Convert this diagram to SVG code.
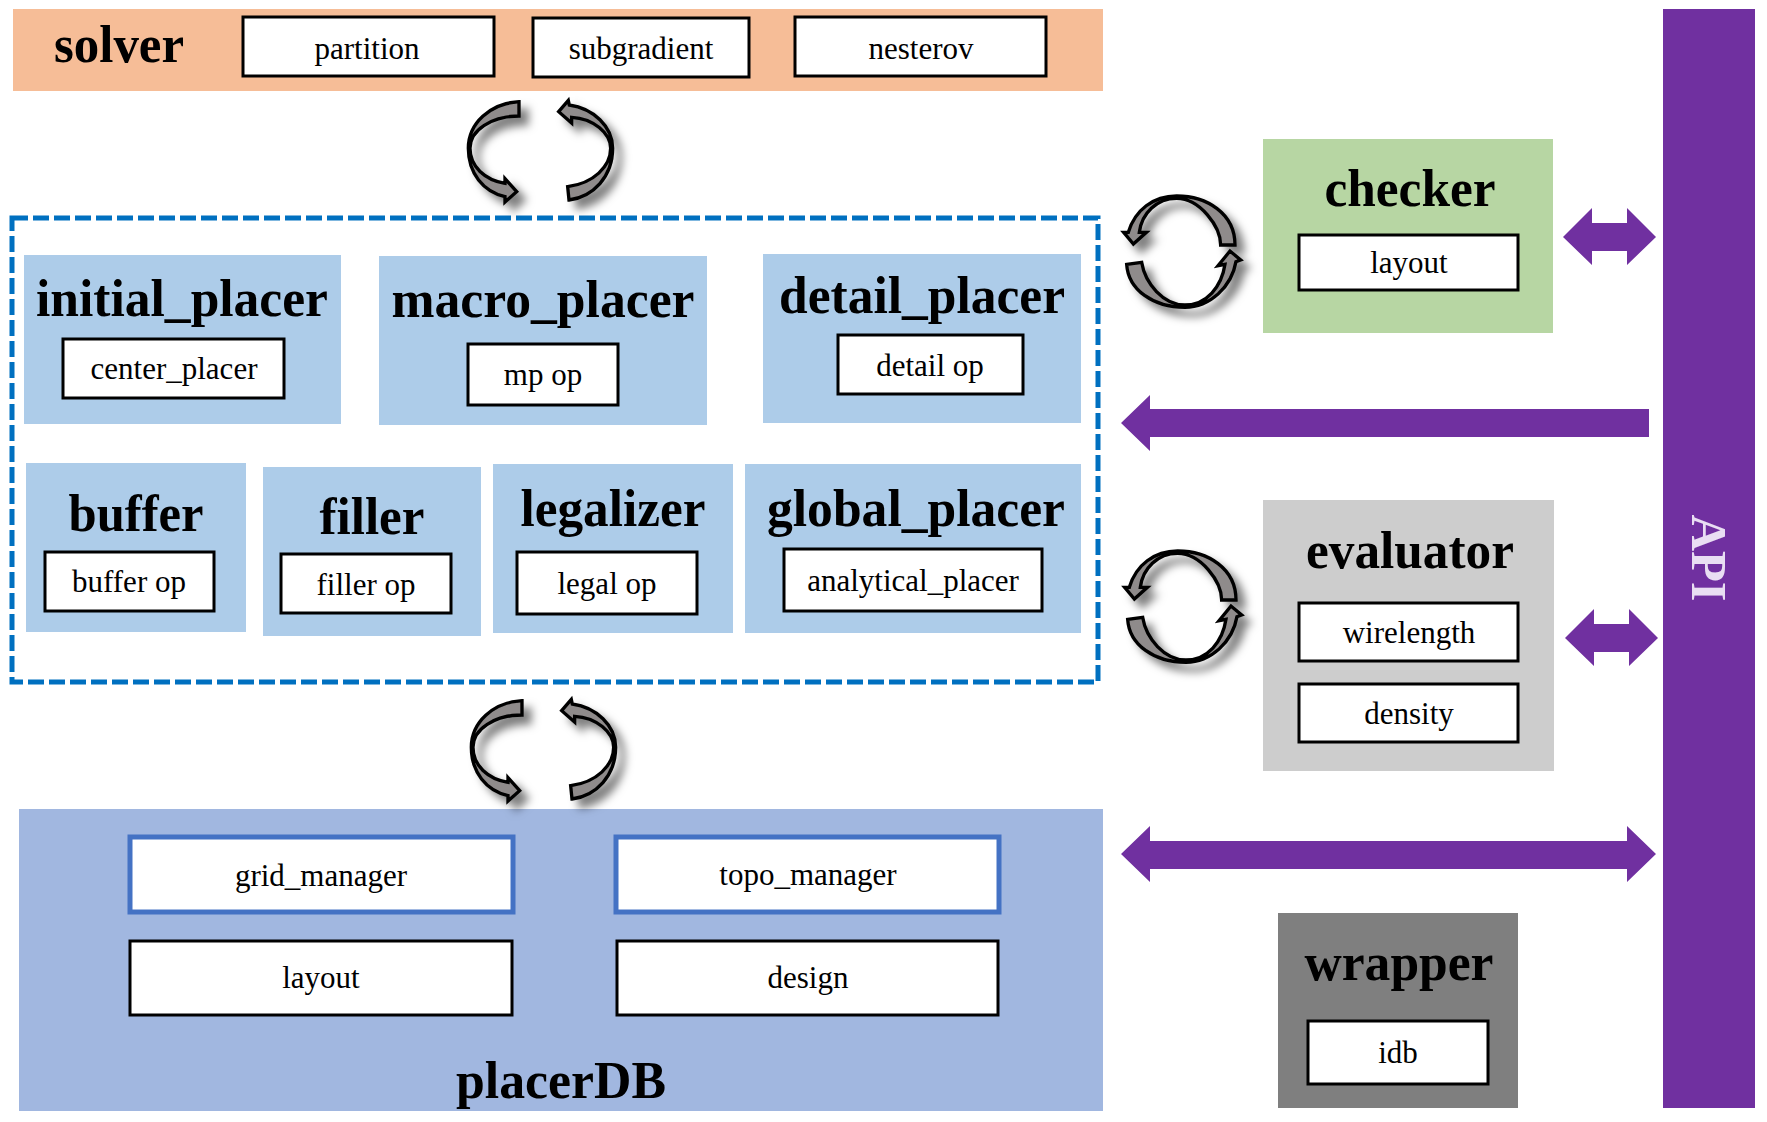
<svg xmlns="http://www.w3.org/2000/svg" xmlns:xlink="http://www.w3.org/1999/xlink" width="1767" height="1122" viewBox="0 0 1767 1122">
<style>
text{font-family:"Liberation Serif","Times New Roman",serif;text-anchor:middle;fill:#000}
.t{font-size:52px;font-weight:bold}
.s{font-size:31px}
.b{fill:#fff;stroke:#000;stroke-width:3}
.bb{fill:#fff;stroke:#4472c4;stroke-width:5}
.p{fill:#adcce9}
.pu{fill:#7030a0}
.loop{fill:#8f8b8b;stroke:#000;stroke-width:10;stroke-linejoin:miter}
</style>
<defs>
<filter id="sh" x="-30%" y="-30%" width="170%" height="170%"><feDropShadow dx="24" dy="24" stdDeviation="12" flood-color="#000" flood-opacity="0.5"/></filter>
<g id="pair" filter="url(#sh)">
<path class="loop" d="M297,65 C210,70 145,130 145,205 C145,280 190,335 255,350 L255,366 L290,335 L255,296 L255,310 C195,300 150,260 150,205 C150,150 215,108 297,108 Z"/>
<path class="loop" d="M416,95 L445,61 L448,75 C520,85 578,140 578,205 C578,290 520,350 447,360 L443,320 C520,310 572,260 572,205 C572,160 520,115 455,112 L455,129 Z"/>
</g>
<g id="ring" filter="url(#sh)">
<path class="loop" d="M100,222 L71,187 L85,187 C105,120 160,78 230,78 C320,78 405,130 405,225 L362,225 C362,170 300,85 230,85 C170,85 125,130 118,187 L139,187 Z"/>
<path class="loop" d="M80,283 L125,277 C135,340 190,405 255,405 C320,405 365,350 375,283 L354,287 L390,243 L422,270 L408,275 C395,350 330,412 255,412 C160,412 85,360 80,283 Z"/>
</g>
</defs>
<rect width="1767" height="1122" fill="#fff"/>
<g id="solver">
<rect x="13" y="9" width="1090" height="82" fill="#f6bd97"/>
<text class="t" x="119" y="62" textLength="130" lengthAdjust="spacingAndGlyphs">solver</text>
</g>
<g id="partition"><rect class="b" x="243" y="17" width="251" height="59"/><text class="s" x="367" y="59">partition</text></g>
<g id="subgradient"><rect class="b" x="533" y="18" width="216" height="59"/><text class="s" x="641" y="59">subgradient</text></g>
<g id="nesterov"><rect class="b" x="795" y="17" width="251" height="59"/><text class="s" x="921" y="59">nesterov</text></g>
<g id="placer_group"><rect x="12" y="218" width="1086" height="464" fill="none" stroke="#0070c0" stroke-width="5" stroke-dasharray="16 5"/></g>
<g id="initial_placer"><rect class="p" x="24" y="255" width="317" height="169"/><text class="t" x="182" y="316" textLength="292" lengthAdjust="spacingAndGlyphs">initial_placer</text><rect class="b" x="63" y="339" width="221" height="59"/><text class="s" x="174" y="379">center_placer</text></g>
<g id="macro_placer"><rect class="p" x="379" y="256" width="328" height="169"/><text class="t" x="543" y="317" textLength="303" lengthAdjust="spacingAndGlyphs">macro_placer</text><rect class="b" x="468" y="344" width="150" height="61"/><text class="s" x="543" y="385">mp op</text></g>
<g id="detail_placer"><rect class="p" x="763" y="254" width="318" height="169"/><text class="t" x="922" y="313" textLength="286" lengthAdjust="spacingAndGlyphs">detail_placer</text><rect class="b" x="838" y="335" width="185" height="59"/><text class="s" x="930" y="376">detail op</text></g>
<g id="buffer"><rect class="p" x="26" y="463" width="220" height="169"/><text class="t" x="136" y="531" textLength="135" lengthAdjust="spacingAndGlyphs">buffer</text><rect class="b" x="45" y="552" width="169" height="59"/><text class="s" x="129" y="592">buffer op</text></g>
<g id="filler"><rect class="p" x="263" y="467" width="218" height="169"/><text class="t" x="372" y="534" textLength="105" lengthAdjust="spacingAndGlyphs">filler</text><rect class="b" x="281" y="554" width="170" height="59"/><text class="s" x="366" y="595">filler op</text></g>
<g id="legalizer"><rect class="p" x="493" y="464" width="240" height="169"/><text class="t" x="613" y="526" textLength="185" lengthAdjust="spacingAndGlyphs">legalizer</text><rect class="b" x="517" y="552" width="180" height="62"/><text class="s" x="607" y="594">legal op</text></g>
<g id="global_placer"><rect class="p" x="745" y="464" width="336" height="169"/><text class="t" x="916" y="526" textLength="298" lengthAdjust="spacingAndGlyphs">global_placer</text><rect class="b" x="784" y="549" width="258" height="62"/><text class="s" x="913" y="591">analytical_placer</text></g>
<g id="placerDB"><rect x="19" y="809" width="1084" height="302" fill="#a1b7e0"/><text class="t" x="561" y="1098" textLength="210" lengthAdjust="spacingAndGlyphs">placerDB</text></g>
<g id="grid_manager"><rect class="bb" x="130" y="837" width="383" height="75"/><text class="s" x="321" y="886">grid_manager</text></g>
<g id="topo_manager"><rect class="bb" x="616" y="837" width="383" height="75"/><text class="s" x="808" y="885">topo_manager</text></g>
<g id="db_layout"><rect class="b" x="130" y="941" width="382" height="74"/><text class="s" x="321" y="988">layout</text></g>
<g id="db_design"><rect class="b" x="617" y="941" width="381" height="74"/><text class="s" x="808" y="988">design</text></g>
<g id="checker"><rect x="1263" y="139" width="290" height="194" fill="#b7d6a3"/><text class="t" x="1410" y="206" textLength="171" lengthAdjust="spacingAndGlyphs">checker</text><rect class="b" x="1299" y="235" width="219" height="55"/><text class="s" x="1409" y="273">layout</text></g>
<g id="evaluator"><rect x="1263" y="500" width="291" height="271" fill="#cdcdcd"/><text class="t" x="1410" y="568" textLength="208" lengthAdjust="spacingAndGlyphs">evaluator</text><rect class="b" x="1299" y="603" width="219" height="58"/><text class="s" x="1409" y="643">wirelength</text><rect class="b" x="1299" y="684" width="219" height="58"/><text class="s" x="1409" y="724">density</text></g>
<g id="wrapper"><rect x="1278" y="913" width="240" height="195" fill="#7f7f7f"/><text class="t" x="1399" y="980" textLength="189" lengthAdjust="spacingAndGlyphs">wrapper</text><rect class="b" x="1308" y="1021" width="180" height="63"/><text class="s" x="1398" y="1063">idb</text></g>
<g id="api"><rect class="pu" x="1663" y="9" width="92" height="1099"/><text transform="translate(1692,558) rotate(90)" x="0" y="0" font-size="50" font-weight="bold" style="fill:#e9def3" textLength="87" lengthAdjust="spacingAndGlyphs">API</text></g>
<g id="connectors">
<use xlink:href="#pair" href="#pair" transform="translate(420,80) scale(0.3333)"/>
<use xlink:href="#pair" href="#pair" transform="translate(423,679) scale(0.3333)"/>
<use xlink:href="#ring" href="#ring" transform="translate(1100,170) scale(0.3333)"/>
<use xlink:href="#ring" href="#ring" transform="translate(1101,525) scale(0.3333)"/>
<path class="pu" d="M1563,237 L1592,208 V223 H1627 V208 L1656,237 L1627,265 V251 H1592 V265 Z"/>
<path class="pu" d="M1565,638 L1594,609 V624 H1629 V609 L1658,638 L1629,666 V652 H1594 V666 Z"/>
<path class="pu" d="M1121,423 L1150,395 V409 H1649 V437 H1150 V451 Z"/>
<path class="pu" d="M1121,854 L1150,826 V841 H1627 V826 L1656,854 L1627,882 V869 H1150 V882 Z"/>
</g>
</svg>
